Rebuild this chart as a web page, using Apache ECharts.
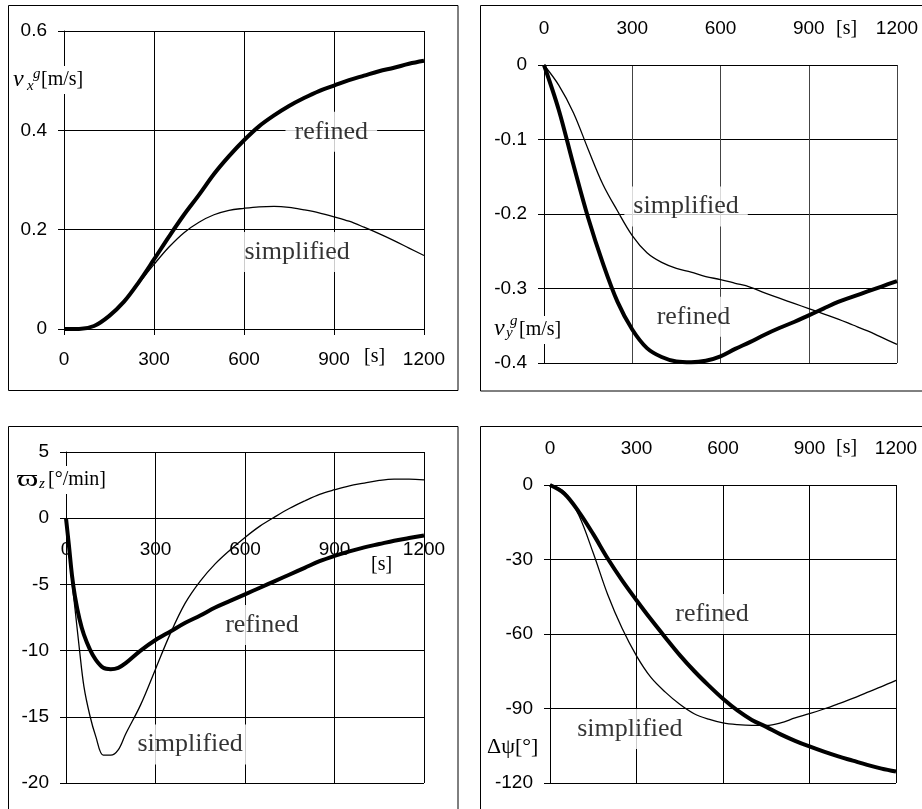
<!DOCTYPE html>
<html>
<head>
<meta charset="utf-8">
<script src="https://cdn.jsdelivr.net/npm/echarts@6/dist/echarts.min.js"></script>
<style>
html,body{margin:0;padding:0;background:#fff;}
#c{width:922px;height:809px;}
</style>
</head>
<body>
<div id="c"></div>
<script>
// ---- data ----
const T = [0,50,100,150,200,250,300,350,400,450,500,550,600,650,700,750,800,850,900,950,1000,1050,1100,1150,1200];
const vxRefined    = [0,0,0.006,0.026,0.055,0.095,0.14,0.186,0.23,0.27,0.312,0.348,0.38,0.408,0.43,0.449,0.465,0.479,0.49,0.501,0.51,0.519,0.526,0.534,0.54];
const vxSimplified = [0,0,0.006,0.026,0.054,0.092,0.13,0.165,0.194,0.215,0.23,0.239,0.243,0.246,0.247,0.245,0.24,0.234,0.226,0.217,0.205,0.192,0.178,0.163,0.148];
const vyRefined    = [0,-0.06,-0.134,-0.205,-0.266,-0.318,-0.355,-0.38,-0.392,-0.398,-0.399,-0.397,-0.391,-0.381,-0.372,-0.362,-0.353,-0.345,-0.336,-0.327,-0.318,-0.311,-0.304,-0.297,-0.29];
const vySimplified = [0,-0.027,-0.064,-0.113,-0.16,-0.196,-0.229,-0.252,-0.265,-0.273,-0.278,-0.284,-0.288,-0.293,-0.298,-0.306,-0.313,-0.32,-0.327,-0.334,-0.341,-0.349,-0.357,-0.366,-0.375];
const T3 = [0,10,20,30,45,60,80,100,125,150,175,200,250,300,350,400,450,500,550,600,650,700,750,800,850,900,950,1000,1050,1100,1150,1200];
const omegaRefined    = [0,-2.1,-4.3,-5.9,-7.6,-8.8,-9.9,-10.7,-11.3,-11.4,-11.3,-10.95,-10.0,-9.2,-8.55,-7.9,-7.35,-6.75,-6.25,-5.75,-5.25,-4.75,-4.25,-3.75,-3.25,-2.85,-2.5,-2.2,-1.95,-1.7,-1.5,-1.3];
const omegaSimplified = [0,-2.6,-4.8,-6.8,-9.9,-12.7,-14.9,-16.5,-17.9,-17.9,-17.5,-16.3,-14.1,-11.4,-8.7,-6.4,-4.75,-3.45,-2.4,-1.45,-0.6,0.1,0.75,1.3,1.8,2.15,2.45,2.65,2.85,2.95,2.95,2.9];
const psiRefined    = [0,-3.5,-10.8,-19.8,-29.6,-38.4,-46.4,-54.1,-61.4,-68.5,-74.9,-80.7,-86.1,-90.8,-94.6,-97.4,-100.4,-103.0,-105.3,-107.4,-109.3,-111,-112.7,-114.2,-115.4];
const psiSimplified = [0,-2.8,-12.2,-27.4,-44.1,-57.7,-68.8,-77.5,-83.4,-88.3,-92.1,-94.3,-95.8,-96.5,-96.8,-96.8,-95.8,-93.8,-92.1,-90.2,-88.1,-85.9,-83.5,-81.2,-78.7];
// annotation anchors [t, value, text]
const vxNotes    = [[891, 0.397, 'refined'], [777, 0.155, 'simplified']];
const vyNotes    = [[483, -0.19, 'simplified'], [508, -0.338, 'refined']];
const omegaNotes = [[657, -8.07, 'refined'], [416, -17.1, 'simplified']];
const psiNotes   = [[562, -51.9, 'refined'], [277, -98.3, 'simplified']];
// axis ranges
const xTicks = {min: 0, max: 1200, interval: 300};
const yRanges = [
  {min: 0, max: 0.6, interval: 0.2},
  {min: -0.4, max: 0, interval: 0.1},
  {min: -20, max: 5, interval: 5},
  {min: -120, max: 0, interval: 30}
];

// ---- chart ----
const SANS = 'Liberation Sans';
const SERIF = 'Liberation Serif';
const grids = [
  {left: 64, top: 31, width: 360, height: 298},
  {left: 544, top: 65, width: 353, height: 298},
  {left: 66, top: 452, width: 358, height: 331},
  {left: 550, top: 485, width: 346, height: 298}
];
const chart = echarts.init(document.getElementById('c'), null, {renderer: 'canvas'});

// distance (px) from a grid's bottom edge up to its y = 0 line
function zeroLift(i) {
  const r = yRanges[i];
  return grids[i].height * (0 - r.min) / (r.max - r.min);
}

function mkX(i, pos, margin, tick, gridColor, offset) {
  return {
    type: 'value', gridIndex: i, position: pos, offset: offset || 0,
    min: xTicks.min, max: xTicks.max, interval: xTicks.interval,
    axisLine: {show: true, onZero: false, lineStyle: {color: '#000', width: 1}},
    axisTick: {show: tick, length: 6, lineStyle: {color: '#000'}},
    splitLine: {show: true, lineStyle: {color: gridColor || '#000', width: 1}},
    axisLabel: {margin: margin, fontFamily: SANS, fontSize: 19, color: '#000', formatter: v => String(v)}
  };
}
function mkY(i) {
  const r = yRanges[i];
  return {
    type: 'value', gridIndex: i,
    min: r.min, max: r.max, interval: r.interval,
    axisLine: {show: true, onZero: false, lineStyle: {color: '#000', width: 1}},
    axisTick: {show: true, length: 6, lineStyle: {color: '#000'}},
    splitLine: {show: true, lineStyle: {color: '#000', width: 1}},
    axisLabel: {margin: 17, fontFamily: SANS, fontSize: 19, color: '#000', formatter: v => String(v)}
  };
}
function pairs(ts, vs) { return ts.map((t, k) => [t, vs[k]]); }
function lineS(i, ts, vs, w) {
  return {
    type: 'line', xAxisIndex: i, yAxisIndex: i, data: pairs(ts, vs),
    showSymbol: false, symbol: 'none', smooth: 0.35,
    lineStyle: {color: '#000', width: w}, z: 3, silent: true
  };
}
function notesS(i, notes) {
  return {
    type: 'scatter', xAxisIndex: i, yAxisIndex: i, data: notes,
    symbolSize: 1, itemStyle: {color: 'rgba(0,0,0,0)'}, z: 1, silent: true,
    label: {
      show: true, position: 'inside', formatter: p => p.data[2],
      fontFamily: SERIF, fontSize: 26, color: '#000',
      backgroundColor: '#fff', padding: [7, 9]
    }
  };
}
function txt(x, y, text, size, italic, bg, pad, sx, fam) {
  const st = {text: text, font: (italic ? 'italic ' : '') + size + 'px "' + (fam || SERIF) + '"', fill: '#000',
              textAlign: 'left', textVerticalAlign: 'middle'};
  if (bg) { st.backgroundColor = '#fff'; st.padding = pad || [3, 3]; }
  const el = {type: 'text', x: x, y: y, z: 100, style: st, silent: true};
  if (sx) { el.scaleX = sx; }
  return el;
}
function box(x, y, w, h) {
  return {type: 'rect', z: 50, shape: {x: x, y: y, width: w, height: h},
          style: {fill: 'none', stroke: '#000', lineWidth: 1}, silent: true};
}

const option = {
  animation: false,
  grid: grids,
  xAxis: [
    mkX(0, 'bottom', 21, true),
    mkX(1, 'top', 27, false, '#444'),
    mkX(2, 'bottom', 22, false, null, -zeroLift(2)),
    mkX(3, 'top', 27, false)
  ],
  yAxis: [mkY(0), mkY(1), mkY(2), mkY(3)],
  series: [
    lineS(0, T, vxSimplified, 1.3), lineS(0, T, vxRefined, 4), notesS(0, vxNotes),
    lineS(1, T, vySimplified, 1.3), lineS(1, T, vyRefined, 4), notesS(1, vyNotes),
    lineS(2, T3, omegaSimplified, 1.3), lineS(2, T3, omegaRefined, 4), notesS(2, omegaNotes),
    lineS(3, T, psiSimplified, 1.3), lineS(3, T, psiRefined, 4), notesS(3, psiNotes)
  ],
  graphic: [
    box(8.5, 5.5, 449.5, 385),
    box(480.5, 5.5, 450, 385.5),
    box(8.5, 426.5, 449.5, 400),
    box(480.5, 426.5, 450, 400),
    // panel 1 title
    txt(13, 80, 'v', 24, true),
    txt(27, 86, 'x', 15, true),
    txt(33, 74, 'g', 15, true),
    txt(40, 80, '[m/s]', 20, false, true, [4, 3, 4, 1]),
    // panel 2 title
    txt(494, 329, 'v', 24, true),
    txt(506, 333, 'y', 15, true),
    txt(510, 321, 'g', 15, true),
    txt(518, 330, '[m/s]', 20, false, true, [4, 3, 4, 1]),
    // panel 3 title
    txt(17, 480, 'ϖ', 24, false, false, null, 1.35),
    txt(39, 484, 'z', 15, true),
    txt(47, 480, '[°/min]', 20, false, true, [4, 3, 4, 1]),
    // panel 4 title
    txt(486, 747, 'Δψ[°]', 22, false, true, [4, 8, 4, 1]),
    // time unit labels
    txt(364, 357, '[s]', 20, false),
    txt(836, 29, '[s]', 20, false),
    txt(371, 565, '[s]', 20, false),
    txt(836, 448, '[s]', 20, false)
  ]
};
chart.setOption(option);
</script>
</body>
</html>
